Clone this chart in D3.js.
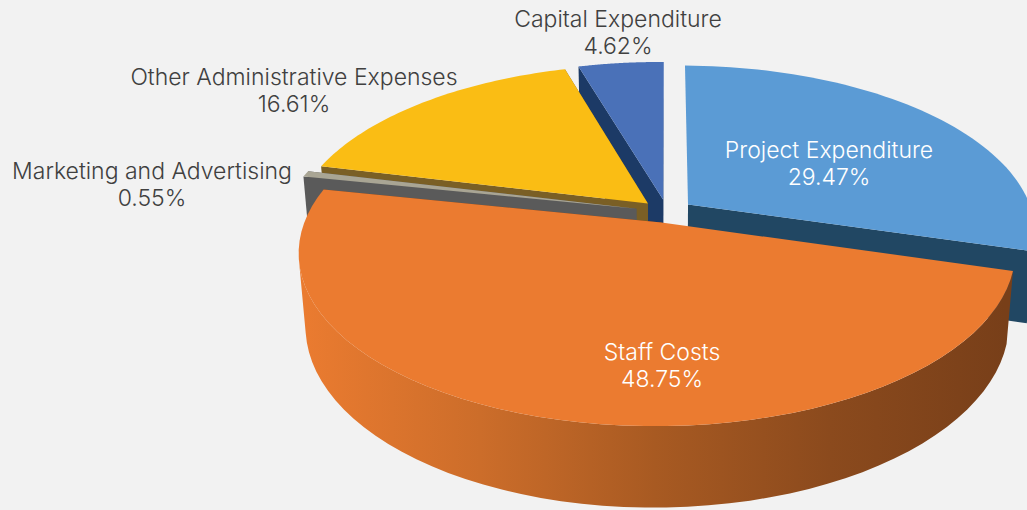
<!DOCTYPE html>
<html><head><meta charset="utf-8">
<script src="https://cdn.jsdelivr.net/npm/d3@7/dist/d3.min.js"></script>
<style>html,body{margin:0;padding:0;background:#f2f2f2;overflow:hidden}svg{display:block}</style>
</head><body><svg id="c" width="1027" height="510"></svg>
<script>
const categories=["Project Expenditure","Staff Costs","Marketing and Advertising","Other Administrative Expenses","Capital Expenditure"];
const values=[29.47,48.75,0.55,16.61,4.62];
const topColors=["#5b9bd5","#eb7b30","#a9a594","#fabd14","#4a71b8"];
const sideColors=["#214763","#78401a","#5a5a5a","#7a5f25","#1c3a66"];
const explode=[0.076,0.065,0.09,0.076,0.076];
const drawOrder=[4,0,3,2,1];
const labelX=[829,662,152,294,618];
const labelY=[150,352,171,77,19];
const labelFill=["#fff","#fff","#404040","#404040","#404040"];

// perspective projection of pie-plane coordinates
const P={cx:667,cy:212,S:349,T:165,H:72,g:0.17,i:0.012,k:0.018};
function project(X,Y,D){
  const w=1-P.g*Y+P.i*X+P.k*D;
  return [P.cx+P.S*X/w, P.cy+(P.T*Y+P.H*D)/w];
}
const svg=d3.select("#c");
const defs=svg.append("defs");
const grad=defs.append("linearGradient").attr("id","wall").attr("gradientUnits","userSpaceOnUse")
  .attr("x1",305).attr("x2",1005).attr("y1",0).attr("y2",0);
[[0,"#ea7b30"],[0.25,"#cc6d2a"],[0.5,"#a85a22"],[0.75,"#8b4a1d"],[1,"#783f19"]].forEach(s=>grad.append("stop").attr("offset",s[0]).attr("stop-color",s[1]));

const arcs=d3.pie().sort(null).startAngle(0).endAngle(2*Math.PI)(values);
const line=d3.line();
const steps=a=>d3.range(0,61).map(t=>a.startAngle+(a.endAngle-a.startAngle)*t/60);

drawOrder.forEach(idx=>{
  const a=arcs[idx], mid=(a.startAngle+a.endAngle)/2, e=explode[idx];
  const ox=e*Math.sin(mid), oy=-e*Math.cos(mid);
  const pt=(th,D)=>project(ox+Math.sin(th),oy-Math.cos(th),D);
  const apex=D=>project(ox,oy,D);
  const g=svg.append("g").attr("class","slice");
  const wallFill=idx===1?"url(#wall)":sideColors[idx];
  // cut faces: a start face in the right half looks away from the viewer
  const faces=a.startAngle<Math.PI?[a.endAngle]:[a.startAngle,a.endAngle];
  faces.forEach(th=>{
    g.append("path").attr("d",line([apex(0),pt(th,0),pt(th,1),apex(1)])+"Z").attr("fill",sideColors[idx]);
  });
  const ts=steps(a);
  // outer wall: only the run of arc that faces the viewer
  const quadSign=(t0,t1)=>d3.polygonArea([pt(t0,0),pt(t1,0),pt(t1,1),pt(t0,1)])>=0;
  const frontSign=quadSign(Math.PI-0.02,Math.PI+0.02);
  const runs=[];
  d3.pairs(ts).forEach(([t0,t1])=>{
    const s=quadSign(t0,t1);
    const last=runs[runs.length-1];
    if(last&&last.s===s) last.t.push(t1); else runs.push({s,t:[t0,t1]});
  });
  runs.filter(r=>r.s===frontSign).forEach(r=>{
    g.append("path").attr("d",line(r.t.map(t=>pt(t,0)).concat(r.t.slice().reverse().map(t=>pt(t,1))))+"Z").attr("fill",wallFill);
  });
  g.append("path").attr("d",line([apex(0)].concat(ts.map(t=>pt(t,0))))+"Z").attr("fill",topColors[idx]);
});

categories.forEach((c,i)=>{
  const t=svg.append("text").attr("text-anchor","middle").attr("fill",labelFill[i])
    .style("font-family","Inter, sans-serif").style("font-size","23px").style("font-weight",300);
  t.append("tspan").attr("x",labelX[i]).attr("y",labelY[i]+8).text(c);
  t.append("tspan").attr("x",labelX[i]).attr("y",labelY[i]+35).text(values[i].toFixed(2)+"%");
});
</script></body></html>
